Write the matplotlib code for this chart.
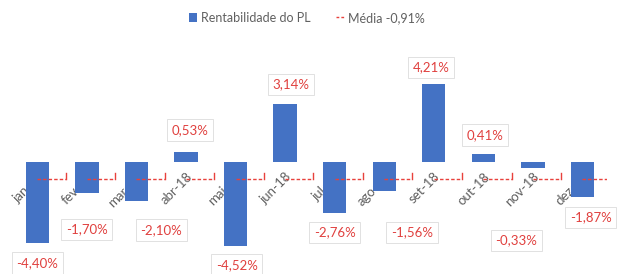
import matplotlib
matplotlib.use("Agg")
import matplotlib.pyplot as plt
from matplotlib.lines import Line2D
from matplotlib.patches import Patch

categories = ["jan-18", "fev-18", "mar-18", "abr-18", "mai-18", "jun-18",
              "jul-18", "ago-18", "set-18", "out-18", "nov-18", "dez-18"]
rentabilidade = [-4.40, -1.70, -2.10, 0.53, -4.52, 3.14,
                 -2.76, -1.56, 4.21, 0.41, -0.33, -1.87]
media = -0.91
series_names = ["Rentabilidade do PL", "Média -0,91%"]

# label offsets in points (layout only)
label_dx = [0, 0, 18, 3, 1, 4, 0, 20, -2, 1, -12, 6]
label_dy = [-14, -26, -21, -16, -14, -14, -14, -30, -12, -14, -52, -15]

def fmt(v):
    return f"{v:.2f}".replace(".", ",") + "%"

plt.rcParams['font.family'] = ['Lato', 'DejaVu Sans']
fig = plt.figure(figsize=(6.26, 2.74), dpi=100)
ax = fig.add_axes([0.02, 0.0, 0.95, 0.836])

x = list(range(len(categories)))
ax.spines["bottom"].set_position(("data", 0))
ax.bar(x, rentabilidade, width=0.47, color="#4472c4", zorder=2)

# mean segments
for i in x:
    ax.plot([i, i + 0.57], [media, media], color="#e8413c", lw=1.0,
            ls=(0, (2.5, 1.5)), zorder=3)
    ax.plot([i + 0.57, i + 0.57], [media, media + 0.3], color="#e8413c",
            lw=1.0, zorder=3)

for i, v in enumerate(rentabilidade):
    ax.annotate(fmt(v), xy=(i, v), xytext=(label_dx[i], -label_dy[i] if v >= 0 else label_dy[i]),
                textcoords="offset points", ha="center", va="center",
                fontsize=9.5, color="#e0403e",
                bbox=dict(boxstyle="square,pad=0.35", fc="white", ec="#dcdcdc", lw=0.6),
                zorder=4)

ax.set_xlim(-0.5, 11.5)
ax.set_ylim(-6.05, 6.32)
ax.set_xticks(x)
ax.set_xticklabels(categories, rotation=45, ha="right", va="top",
                   rotation_mode="anchor", fontsize=9.5, color="#606060")
ax.tick_params(axis="x", length=0, pad=6)
for s in ["bottom", "top", "left", "right"]:
    ax.spines[s].set_color("none")
ax.set_yticks([])

handles = [Patch(facecolor="#4472c4", edgecolor="none"),
           Line2D([0], [0], color="#e8413c", lw=1.0, ls=(0, (2, 1.5)))]
fig.legend(handles, series_names, loc="center", bbox_to_anchor=(0.49, 0.935),
           ncol=2, frameon=False, fontsize=9, labelcolor="#606060",
           handlelength=0.7, handleheight=0.7, handletextpad=0.3, columnspacing=2.0)

fig.savefig("out.png", dpi=100)
